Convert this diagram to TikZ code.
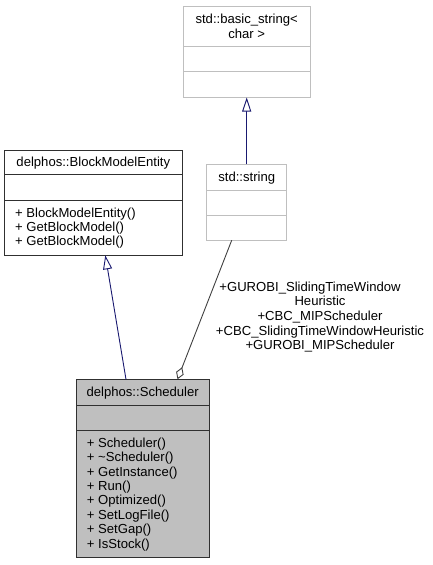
\documentclass[tikz,border=0pt]{standalone}
\usepackage{fontspec}
\setmainfont{Liberation Sans}
\usetikzlibrary{arrows.meta}
\definecolor{gborder}{HTML}{BFBFBF}
\definecolor{dborder}{HTML}{303030}
\definecolor{schfill}{HTML}{BFBFBF}
\definecolor{inh}{HTML}{191970}
\definecolor{use}{HTML}{404040}
\begin{document}
\begin{tikzpicture}[x=1pt,y=-1pt,
  txt/.style={inner sep=0pt,font=\fontsize{13.1}{14.4}\selectfont},
  ltxt/.style={txt,anchor=base west},
  ctxt/.style={txt,anchor=base},
  inhedge/.style={draw=inh,line width=0.9pt,-{Triangle[open,length=14pt,width=9pt,fill=white]}},
  useedge/.style={draw=use,line width=0.9pt,{Diamond[open,length=13pt,width=8pt,fill=white]}-}]
\useasboundingbox (0,0) rectangle (432,565);
% std::basic_string<char>
\draw[gborder,line width=1pt] (183.5,6.5) rectangle (310,97.5);
\draw[gborder,line width=1pt] (183.5,46.5) -- (310,46.5) (183.5,71.5) -- (310,71.5);
\node[ctxt] (bs1) at (246.7,23.6) {std::basic\_string<};
\node[ctxt] (bs2) at (246.7,38) {char >};
\coordinate (bsbot) at (246.7,97.5);
% std::string
\draw[gborder,line width=1pt] (206.7,164.3) rectangle (286.7,240.3);
\draw[gborder,line width=1pt] (206.7,190.3) -- (286.7,190.3) (206.7,215.3) -- (286.7,215.3);
\node[ctxt] (str) at (246.7,181.3) {std::string};
\coordinate (strtop) at (246.7,164.3);
\coordinate (strbot) at (231.7,240.3);
% BlockModelEntity
\draw[dborder,line width=1pt] (4.7,150) rectangle (182,255.3);
\draw[dborder,line width=1pt] (4.7,174.7) -- (182,174.7) (4.7,200.7) -- (182,200.7);
\node[ctxt] (bme) at (93.3,166.3) {delphos::BlockModelEntity};
\node[ltxt] (bm1) at (15,217) {+ BlockModelEntity()};
\node[ltxt] (bm2) at (15,231.3) {+ GetBlockModel()};
\node[ltxt] (bm3) at (15,245.5) {+ GetBlockModel()};
\coordinate (bmebot) at (105.3,255.3);
% Scheduler
\draw[dborder,fill=schfill,line width=1pt] (76,379.3) rectangle (209.3,557.7);
\draw[dborder,line width=1pt] (76,405.3) -- (209.3,405.3) (76,430.3) -- (209.3,430.3);
\node[ctxt] (sch) at (142.7,396.3) {delphos::Scheduler};
\foreach [count=\i] \t in {Scheduler(),\textasciitilde Scheduler(),GetInstance(),Run(),Optimized(),SetLogFile(),SetGap(),IsStock()}
  \node[ltxt] (s\i) at (86.7,{447.3+14.4*(\i-1)}) {+ \t};
\coordinate (schtopA) at (126,379.3);
\coordinate (schtopB) at (177.5,379.3);
% edges
\draw[inhedge] (strtop) -- (bsbot);
\draw[inhedge] (schtopA) -- (bmebot);
\draw[useedge] (schtopB) -- (strbot);
% labels
\node[ctxt] (l1) at (310,291.3) {+GUROBI\_SlidingTimeWindow};
\node[ctxt] (l2) at (320,305.9) {Heuristic};
\node[ctxt] (l3) at (320,320.3) {+CBC\_MIPScheduler};
\node[ctxt] (l4) at (320,335.3) {+CBC\_SlidingTimeWindowHeuristic};
\node[ctxt] (l5) at (320,349.9) {+GUROBI\_MIPScheduler};
\end{tikzpicture}
\end{document}
